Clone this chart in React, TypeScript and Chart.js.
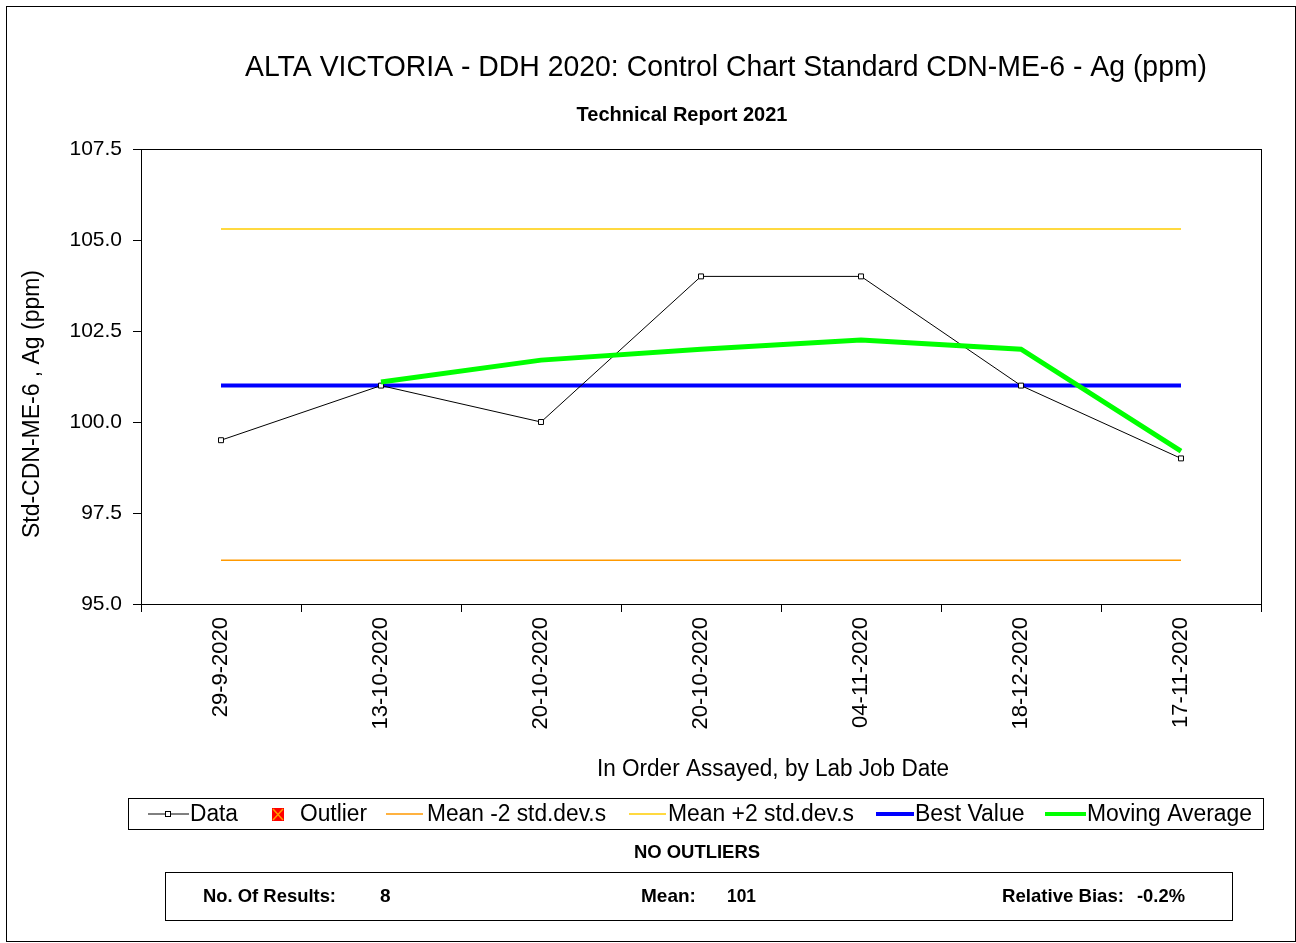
import React, { useEffect, useRef } from "react";
import { Chart, registerables } from "chart.js";

Chart.register(...registerables);

const FONT = '"Liberation Sans", Arial, sans-serif';

const categories = [
  "29-9-2020",
  "13-10-2020",
  "20-10-2020",
  "20-10-2020",
  "04-11-2020",
  "18-12-2020",
  "17-11-2020",
];
const dataValues = [99.5, 101.0, 100.0, 104.0, 104.0, 101.0, 99.0];
const movingAverage = [null, 101.1, 101.7, 102.0, 102.25, 102.0, 99.2];
const bestValue = [101.0, 101.0, 101.0, 101.0, 101.0, 101.0, 101.0];
const meanMinus2sd = [96.2, 96.2, 96.2, 96.2, 96.2, 96.2, 96.2];
const meanPlus2sd = [105.3, 105.3, 105.3, 105.3, 105.3, 105.3, 105.3];
const yMin = 95.0;
const yMax = 107.5;
const yStep = 2.5;

const titleText = "ALTA VICTORIA - DDH 2020: Control Chart Standard CDN-ME-6 - Ag (ppm)";
const subtitleText = "Technical Report 2021";
const yTitleText = "Std-CDN-ME-6 , Ag (ppm)";
const xTitleText = "In Order Assayed, by Lab Job Date";
const outlierText = "NO OUTLIERS";
const statLabels = ["No. Of Results:", "Mean:", "Relative Bias:"];
const statValues = ["8", "101", "-0.2%"];

const decorPlugin = {
  id: "decor",
  afterDraw(chart: any) {
    const ctx = chart.ctx as CanvasRenderingContext2D;
    const ca = chart.chartArea;
    ctx.save();
    // outer frame
    ctx.strokeStyle = "#000";
    ctx.lineWidth = 1;
    ctx.strokeRect(6.5, 6.5, 1289, 935);
    // plot frame
    ctx.strokeRect(Math.round(ca.left) + 0.5, Math.round(ca.top) + 0.5, Math.round(ca.right - ca.left), Math.round(ca.bottom - ca.top));

    ctx.fillStyle = "#000";
    ctx.textBaseline = "middle";
    ctx.textAlign = "center";
    // title
    ctx.font = `29px ${FONT}`;
    ctx.fillText(titleText, 726, 68, 962);
    ctx.font = `bold 20px ${FONT}`;
    ctx.fillText(subtitleText, 682, 115, 220);
    // x title
    ctx.font = `23px ${FONT}`;
    ctx.fillText(xTitleText, 773, 770, 352);
    // y title
    ctx.save();
    ctx.translate(33, 404);
    ctx.rotate(-Math.PI / 2);
    ctx.font = `23px ${FONT}`;
    ctx.fillText(yTitleText, 0, 0, 268);
    ctx.restore();

    // legend box
    ctx.strokeStyle = "#000";
    ctx.lineWidth = 1;
    ctx.strokeRect(128.5, 798.5, 1135, 31);
    const ly = 814;
    ctx.textAlign = "left";
    ctx.font = `23px ${FONT}`;
    // Data
    ctx.beginPath();
    ctx.moveTo(148, ly);
    ctx.lineTo(189, ly);
    ctx.strokeStyle = "#000";
    ctx.lineWidth = 1;
    ctx.stroke();
    ctx.fillStyle = "#fff";
    ctx.fillRect(165, ly - 3, 6, 6);
    ctx.strokeRect(165.5, ly - 2.5, 5, 5);
    ctx.fillStyle = "#000";
    ctx.fillText("Data", 190, ly + 1, 48);
    // Outlier
    ctx.fillStyle = "#ff0000";
    ctx.fillRect(272, ly - 6, 12, 13);
    ctx.strokeStyle = "#ff9900";
    ctx.lineWidth = 1.5;
    ctx.beginPath();
    ctx.moveTo(273, ly - 5);
    ctx.lineTo(283, ly + 6);
    ctx.moveTo(283, ly - 5);
    ctx.lineTo(273, ly + 6);
    ctx.stroke();
    ctx.fillStyle = "#000";
    ctx.fillText("Outlier", 300, ly + 1, 67);
    // Mean -2
    ctx.strokeStyle = "#ff9900";
    ctx.lineWidth = 1.5;
    ctx.beginPath();
    ctx.moveTo(386, ly);
    ctx.lineTo(423, ly);
    ctx.stroke();
    ctx.fillText("Mean -2 std.dev.s", 427, ly + 1, 179);
    // Mean +2
    ctx.strokeStyle = "#ffcc00";
    ctx.beginPath();
    ctx.moveTo(629, ly);
    ctx.lineTo(666, ly);
    ctx.stroke();
    ctx.fillText("Mean +2 std.dev.s", 668, ly + 1, 186);
    // Best value
    ctx.strokeStyle = "#0000ff";
    ctx.lineWidth = 4;
    ctx.beginPath();
    ctx.moveTo(876, ly);
    ctx.lineTo(914, ly);
    ctx.stroke();
    ctx.fillText("Best Value", 915, ly + 1, 110);
    // Moving average
    ctx.strokeStyle = "#00ff00";
    ctx.lineWidth = 4;
    ctx.beginPath();
    ctx.moveTo(1045, ly);
    ctx.lineTo(1086, ly);
    ctx.stroke();
    ctx.fillText("Moving Average", 1087, ly + 1, 165);

    // footer
    ctx.textAlign = "center";
    ctx.font = `bold 19px ${FONT}`;
    ctx.fillText(outlierText, 697, 853, 126);
    ctx.strokeStyle = "#000";
    ctx.lineWidth = 1;
    ctx.strokeRect(165.5, 872.5, 1067, 48);
    ctx.textAlign = "left";
    ctx.font = `bold 19px ${FONT}`;
    const sy = 897;
    ctx.fillText(statLabels[0], 203, sy, 133);
    ctx.fillText(statValues[0], 380, sy);
    ctx.fillText(statLabels[1], 641, sy, 56);
    ctx.fillText(statValues[1], 727, sy, 29);
    ctx.fillText(statLabels[2], 1002, sy, 122);
    ctx.fillText(statValues[2], 1137, sy, 48);
    ctx.restore();
  },
};

export default function App() {
  const canvasRef = useRef<HTMLCanvasElement | null>(null);

  useEffect(() => {
    if (!canvasRef.current) return;
    const chart = new Chart(canvasRef.current, {
      type: "line",
      data: {
        labels: categories,
        datasets: [
          {
            label: "Data",
            data: dataValues,
            borderColor: "#000000",
            borderWidth: 1,
            pointStyle: "rect",
            pointRadius: 3.5,
            pointBackgroundColor: "#ffffff",
            pointBorderColor: "#000000",
            pointBorderWidth: 1,
            tension: 0,
            order: 1,
          },
          {
            label: "Mean -2 std.dev.s",
            data: meanMinus2sd,
            borderColor: "#ff9900",
            borderWidth: 1.5,
            pointRadius: 0,
            order: 3,
          },
          {
            label: "Mean +2 std.dev.s",
            data: meanPlus2sd,
            borderColor: "#ffcc00",
            borderWidth: 1.5,
            pointRadius: 0,
            order: 3,
          },
          {
            label: "Best Value",
            data: bestValue,
            borderColor: "#0000ff",
            borderWidth: 4,
            pointRadius: 0,
            order: 2,
          },
          {
            label: "Moving Average",
            data: movingAverage,
            borderColor: "#00ff00",
            borderWidth: 5,
            pointRadius: 0,
            spanGaps: false,
            order: 0,
          },
        ],
      },
      options: {
        responsive: false,
        animation: false,
        layout: { padding: { left: 41, right: 35, top: 149, bottom: 199 } },
        plugins: {
          legend: { display: false },
          title: { display: false },
          tooltip: { enabled: false },
        },
        scales: {
          x: {
            offset: true,
            grid: {
              offset: true,
              drawOnChartArea: false,
              drawTicks: true,
              tickLength: 8,
              color: "#000000",
            },
            border: { color: "#000000", width: 1 },
            ticks: {
              minRotation: 90,
              maxRotation: 90,
              autoSkip: false,
              color: "#000000",
              padding: 5,
              font: { family: FONT, size: 22 },
            },
            afterFit: (scale: any) => {
              scale.height = 140;
            },
          },
          y: {
            min: yMin,
            max: yMax,
            grid: {
              drawOnChartArea: false,
              drawTicks: true,
              tickLength: 8,
              color: "#000000",
            },
            border: { color: "#000000", width: 1 },
            ticks: {
              stepSize: yStep,
              color: "#000000",
              padding: 11,
              font: { family: FONT, size: 21 },
              callback: (v: any) => Number(v).toFixed(1),
            },
            afterFit: (scale: any) => {
              scale.width = 100;
            },
          },
        },
      },
      plugins: [decorPlugin],
    });
    return () => chart.destroy();
  }, []);

  return (
    <div style={{ position: "absolute", left: 0, top: 0, width: 1296, height: 943, background: "#fff" }}>
      <canvas ref={canvasRef} width={1296} height={943} style={{ display: "block" }} />
    </div>
  );
}
